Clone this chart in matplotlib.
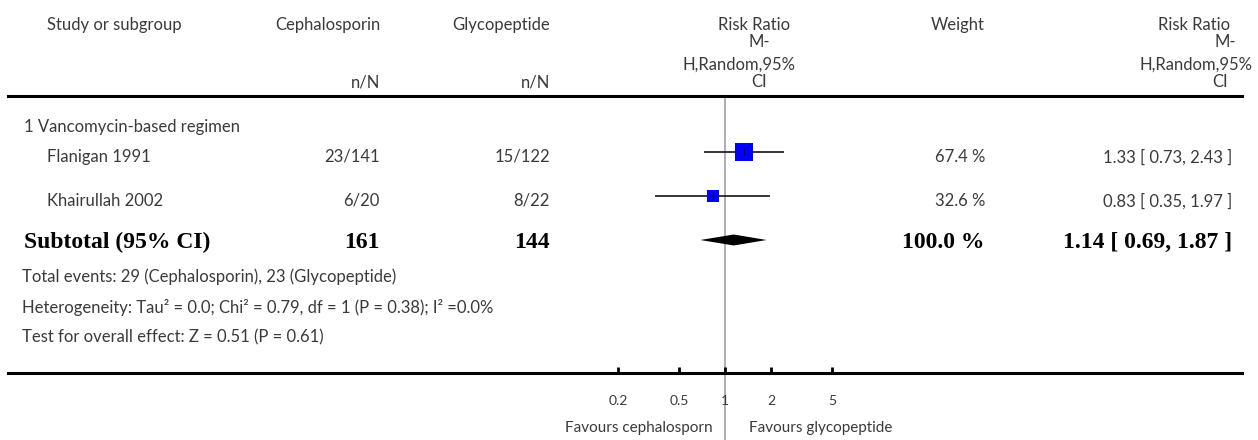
import matplotlib.pyplot as plt
from matplotlib.ticker import NullLocator
import numpy as np

# Study-level data
studies = ['Flanigan 1991', 'Khairullah 2002']
ceph_events = [23, 6]
ceph_total = [141, 20]
glyc_events = [15, 8]
glyc_total = [122, 22]
rr = [1.33, 0.83]
ci_low = [0.73, 0.35]
ci_high = [2.43, 1.97]
weights = [67.4, 32.6]

# Pooled (random effects) result
pooled_rr = 1.14
pooled_low = 0.69
pooled_high = 1.87
pooled_weight = 100.0

scale_ticks = [0.2, 0.5, 1, 2, 5]
scale_labels = ['0.2', '0.5', '1', '2', '5']

plt.rcParams['font.family'] = ['Lato', 'DejaVu Sans']
GREY = '#3a3a3a'
FS = 12
BOLD = dict(family='Liberation Serif', weight='bold', fontsize=17, color='black')

W, H = 1258, 440
fig = plt.figure(figsize=(W / 100, H / 100), dpi=100)

# text layer in pixel units
tx = fig.add_axes([0, 0, 1, 1])
tx.set_xlim(0, W)
tx.set_ylim(H, 0)
tx.axis('off')

def put(x, y, s, ha='left', **kw):
    style = dict(fontsize=FS, color=GREY)
    style.update(kw)
    tx.text(x, y, s, ha=ha, va='center', **style)

# forest panel: log scale, 1 on x=725px, 153px per decade
x_one, per_dec = 725, 153
left_px, right_px, top_px, bot_px = 8, 1242, 96, 373
fx = fig.add_axes([left_px / W, (H - bot_px) / H, (right_px - left_px) / W, (bot_px - top_px) / H])
fx.patch.set_alpha(0)
fx.set_xscale('log')
fx.set_xlim(10 ** ((left_px - x_one) / per_dec), 10 ** ((right_px - x_one) / per_dec))
fx.set_ylim(bot_px, top_px)
for side in ['left', 'right']:
    fx.spines[side].set_visible(False)
for side in ['top', 'bottom']:
    fx.spines[side].set_linewidth(2.2)
fx.set_yticks([])
fx.set_xticks(scale_ticks, labels=scale_labels)
fx.xaxis.set_minor_locator(NullLocator())
fx.tick_params(axis='x', direction='in', length=4, width=2, pad=16, labelsize=10, labelcolor=GREY)

# line of no effect
fx.axvline(1, ymin=-0.25, ymax=1, color='#a8a8a8', lw=1.3, clip_on=False, zorder=0)

# headers
put(47, 25, 'Study or subgroup')
put(380, 25, 'Cephalosporin', ha='right')
put(550, 25, 'Glycopeptide', ha='right')
put(380, 82, 'n/N', ha='right')
put(550, 82, 'n/N', ha='right')
put(985, 25, 'Weight', ha='right')
for (x, y, s) in [(754, 25, 'Risk Ratio'), (759, 42, 'M-'), (739, 65, 'H,Random,95%'), (759, 82, 'CI'),
                  (1194, 25, 'Risk Ratio'), (1225, 42, 'M-'), (1196, 65, 'H,Random,95%'), (1220, 82, 'CI')]:
    put(x, y, s, ha='center')

put(24, 127, '1 Vancomycin-based regimen')

row_y = [157, 201]
for i, name in enumerate(studies):
    y = row_y[i]
    put(47, y, name)
    put(380, y, f'{ceph_events[i]}/{ceph_total[i]}', ha='right')
    put(550, y, f'{glyc_events[i]}/{glyc_total[i]}', ha='right')
    put(985, y, f'{weights[i]:.1f} %', ha='right')
    put(1232, y, f'{rr[i]:.2f} [ {ci_low[i]:.2f}, {ci_high[i]:.2f} ]', ha='right')

    # confidence interval and weighted box
    my = y - 5
    fx.hlines(my, ci_low[i], ci_high[i], color='black', lw=1.1, zorder=2)
    side = 2.2 * np.sqrt(weights[i]) * 0.72
    fx.plot(rr[i], my, marker='s', ms=side, color='#0000ff', mew=0, zorder=3)
    fx.plot(rr[i], my, marker='|', ms=4, color='black', mew=0.8, zorder=4)

# subtotal row
sub_y = 242
put(24, sub_y, 'Subtotal (95% CI)', **BOLD)
put(380, sub_y, str(sum(ceph_total)), ha='right', **BOLD)
put(550, sub_y, str(sum(glyc_total)), ha='right', **BOLD)
put(985, sub_y, f'{pooled_weight:.1f} %', ha='right', **BOLD)
put(1232, sub_y, f'{pooled_rr:.2f} [ {pooled_low:.2f}, {pooled_high:.2f} ]', ha='right', **BOLD)
dy = sub_y - 2
half_h = 5.5
fx.fill([pooled_low, pooled_rr, pooled_high, pooled_rr], [dy, dy - half_h, dy, dy + half_h],
        color='black', lw=0, zorder=3)

put(22, 277, f'Total events: {sum(ceph_events)} (Cephalosporin), {sum(glyc_events)} (Glycopeptide)')
put(22, 307, 'Heterogeneity: Tau² = 0.0; Chi² = 0.79, df = 1 (P = 0.38); I² =0.0%')
put(22, 337, 'Test for overall effect: Z = 0.51 (P = 0.61)')

put(713, 428, 'Favours cephalosporn', ha='right', fontsize=11)
put(749, 428, 'Favours glycopeptide', fontsize=11)

fig.savefig('out.png', dpi=100)
